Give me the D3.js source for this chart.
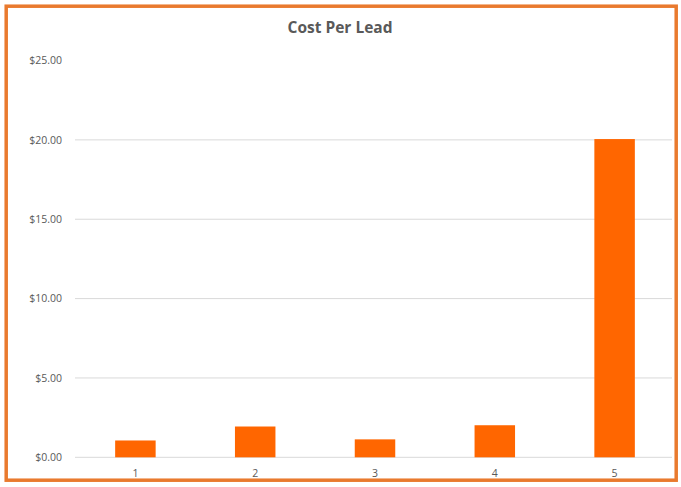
<!DOCTYPE html>
<html>
<head>
<meta charset="utf-8">
<script src="https://cdn.jsdelivr.net/npm/d3@7"></script>
<style>
  body { margin: 0; background: #fff; }
  text { font-family: "Open Sans", "Liberation Sans", sans-serif; }
</style>
</head>
<body>
<script>
var width = 681;
var height = 487;

var categories = ["1", "2", "3", "4", "5"];
var costPerLead = [1.06, 1.94, 1.13, 2.02, 20.05];
var yTicks = [0, 5, 10, 15, 20, 25];
var gridTicks = [0, 5, 10, 15, 20];

var svg = d3.select("body")
    .append("svg")
    .attr("width", width)
    .attr("height", height);

svg.append("rect")
    .attr("x", 6.2)
    .attr("y", 6.2)
    .attr("width", 670)
    .attr("height", 474)
    .attr("fill", "#fff")
    .attr("stroke", "#E97A2E")
    .attr("stroke-width", 3.5);

var x = d3.scaleBand()
    .domain(categories)
    .range([75.5, 674.5])
    .paddingInner(0.662)
    .paddingOuter(0.331);

var y = d3.scaleLinear()
    .domain([0, 25])
    .range([457.3, 60.5]);

// gridlines (no line at the top tick)
svg.append("g")
    .selectAll("line")
    .data(gridTicks)
    .enter().append("line")
    .attr("x1", 75)
    .attr("x2", 672)
    .attr("y1", function(d) { return y(d); })
    .attr("y2", function(d) { return y(d); })
    .attr("stroke", "#D9D9D9")
    .attr("stroke-width", 1);

// y labels
svg.append("g")
    .selectAll("text")
    .data(yTicks)
    .enter().append("text")
    .attr("x", 62)
    .attr("y", function(d) { return y(d); })
    .attr("dy", "0.35em")
    .attr("text-anchor", "end")
    .attr("font-size", "10.5px")
    .attr("fill", "#595959")
    .text(function(d) { return "$" + d3.format(".2f")(d); });

// bars
svg.append("g")
    .selectAll("rect")
    .data(costPerLead)
    .enter().append("rect")
    .attr("x", function(d, i) { return x(categories[i]); })
    .attr("width", x.bandwidth())
    .attr("y", function(d) { return y(d); })
    .attr("height", function(d) { return y(0) - y(d); })
    .attr("fill", "#FF6600");

// x labels
svg.append("g")
    .selectAll("text")
    .data(categories)
    .enter().append("text")
    .attr("x", function(d) { return x(d) + x.bandwidth() / 2; })
    .attr("y", 473)
    .attr("dy", "0.35em")
    .attr("text-anchor", "middle")
    .attr("font-size", "10.5px")
    .attr("fill", "#595959")
    .text(function(d) { return d; });

svg.append("text")
    .attr("x", 340)
    .attr("y", 28)
    .attr("dy", "0.35em")
    .attr("text-anchor", "middle")
    .attr("font-size", "15.5px")
    .attr("font-weight", "bold")
    .attr("fill", "#595959")
    .text("Cost Per Lead");
</script>
</body>
</html>
